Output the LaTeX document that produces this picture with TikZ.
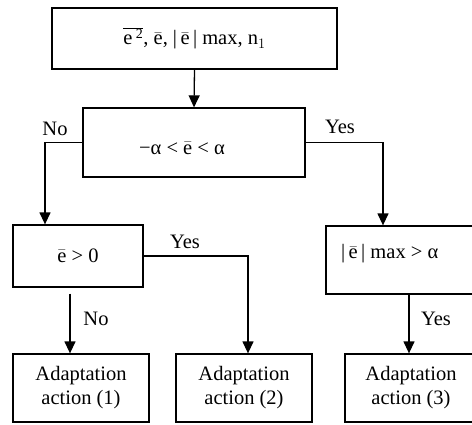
\documentclass[tikz,border=0pt]{standalone}
\usepackage{fontspec}
\setmainfont{Liberation Serif}
\usetikzlibrary{arrows.meta}
\newcommand\eb{$\bar{\mbox{e}}$}

\begin{document}
\begin{tikzpicture}[x=1pt,y=-1pt,>={Triangle[width=11pt,length=12pt]},
  every node/.append style={font=\fontsize{20.5}{24}\selectfont},
  box/.style={draw,line width=1.3pt,inner sep=0pt,align=center},
  link/.style={line width=1.3pt}]
  \useasboundingbox (0,0) rectangle (472,424);
  \node[box,minimum width=285pt,minimum height=61pt] (top) at (194.5,38.5)
    {$\overline{\mbox{e\,}^{\mbox{\fontsize{14}{14}\selectfont 2}}}$, \eb, |\,\eb\,| max, n$_1$};
  \node[box,minimum width=222pt,minimum height=69pt] (mid) at (194,142.5) {};
  \node (midtext) at (182,148) {−α < \eb{} < α};
  \node[box,minimum width=130pt,minimum height=62pt] (pos) at (78,256) {\eb{} > 0};
  \node[box,minimum width=166pt,minimum height=68pt] (amax) at (409,260) {};
  \node[anchor=west,inner sep=0pt] (amaxtext) at (341,254) {|\,\eb\,| max > α};

  \node[box,minimum width=136pt,minimum height=68pt] (act1) at (81,388) {Adaptation\\action (1)};
  \node[box,minimum width=136pt,minimum height=68pt] (act2) at (244,388) {Adaptation\\action (2)};
  \node[box,minimum width=132pt,minimum height=68pt] (act3) at (411,388) {Adaptation\\action (3)};

  \draw[link,->] (top.south) -- (mid.north);
  \draw[link,->] (mid.west) -| ([xshift=-33pt]pos.north);
  \draw[link,->] (mid.east) -| ([xshift=-26pt]amax.north);
  \draw[link,->] (pos.east) -| ([xshift=4pt]act2.north);
  \draw[link,->] ([xshift=-8pt,yshift=-6pt]pos.south) -- ([xshift=-8pt]pos.south |- act1.north);
  \draw[link,->] (amax.south) -- (amax.south |- act3.north);

  \node (no1) at (55,129) {No};
  \node (yes1) at (340,127) {Yes};
  \node (yes2) at (185,242) {Yes};
  \node (no2) at (96,319) {No};
  \node (yes3) at (436,319) {Yes};
\end{tikzpicture}
\end{document}
